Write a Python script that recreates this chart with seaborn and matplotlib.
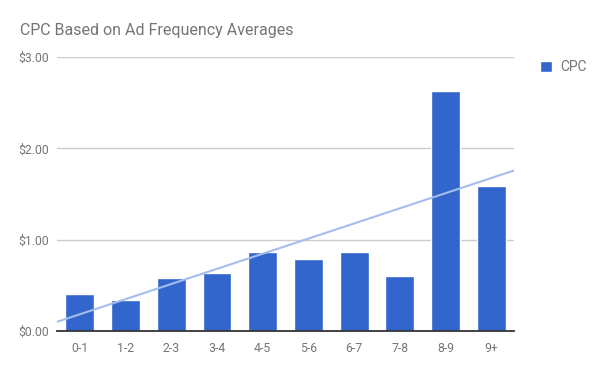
import matplotlib
matplotlib.use("Agg")
import matplotlib.pyplot as plt
import seaborn as sns
import numpy as np
import pandas as pd

categories = ["0-1", "1-2", "2-3", "3-4", "4-5", "5-6", "6-7", "7-8", "8-9", "9+"]
cpc = [0.41, 0.34, 0.58, 0.63, 0.86, 0.79, 0.86, 0.60, 2.63, 1.59]
y_ticks = [0, 1, 2, 3]
y_labels = ["$0.00", "$1.00", "$2.00", "$3.00"]

sns.set_style("white")
plt.rcParams["font.family"] = ["Roboto", "DejaVu Sans"]

df = pd.DataFrame({"range": categories, "CPC": cpc})

fig = plt.figure(figsize=(6, 3.71), dpi=100)
ax = fig.add_axes([0.095, 0.108, 0.762, 0.738])

sns.barplot(data=df, x="range", y="CPC", color="#3366cc", saturation=1,
            width=0.63, ax=ax, label="CPC", zorder=3)

# linear trendline over the bar positions
xs = np.arange(len(cpc))
slope, intercept = np.polyfit(xs, cpc, 1)
xl = np.array([-0.5, len(cpc) - 0.5])
ax.plot(xl, slope * xl + intercept, color="#a4bdee", lw=1.5, zorder=4)

ax.set_xlim(-0.5, len(cpc) - 0.5)
ax.set_ylim(0, 3)
ax.set_yticks(y_ticks)
ax.set_yticklabels(y_labels)
ax.grid(axis="y", color="#cccccc", lw=1, zorder=0)
ax.set_axisbelow(True)
for s in ["top", "right", "left"]:
    ax.spines[s].set_visible(False)
ax.spines["bottom"].set_color("#333333")
ax.spines["bottom"].set_linewidth(1.3)
ax.spines["bottom"].set_zorder(5)
ax.tick_params(axis="both", length=0, labelsize=8.8, colors="#757575", pad=8)
ax.tick_params(axis="y", pad=6)
ax.set_xlabel(""); ax.set_ylabel("")

fig.text(0.033, 0.917, "CPC Based on Ad Frequency Averages", fontsize=11.5,
         color="#757575", va="center")

ax.legend(loc="upper left", bbox_to_anchor=(1.03, 1.035), frameon=False,
          fontsize=10, labelcolor="#757575", handlelength=0.85, handleheight=0.85,
          handletextpad=0.6)

fig.savefig("out.png", dpi=100)
